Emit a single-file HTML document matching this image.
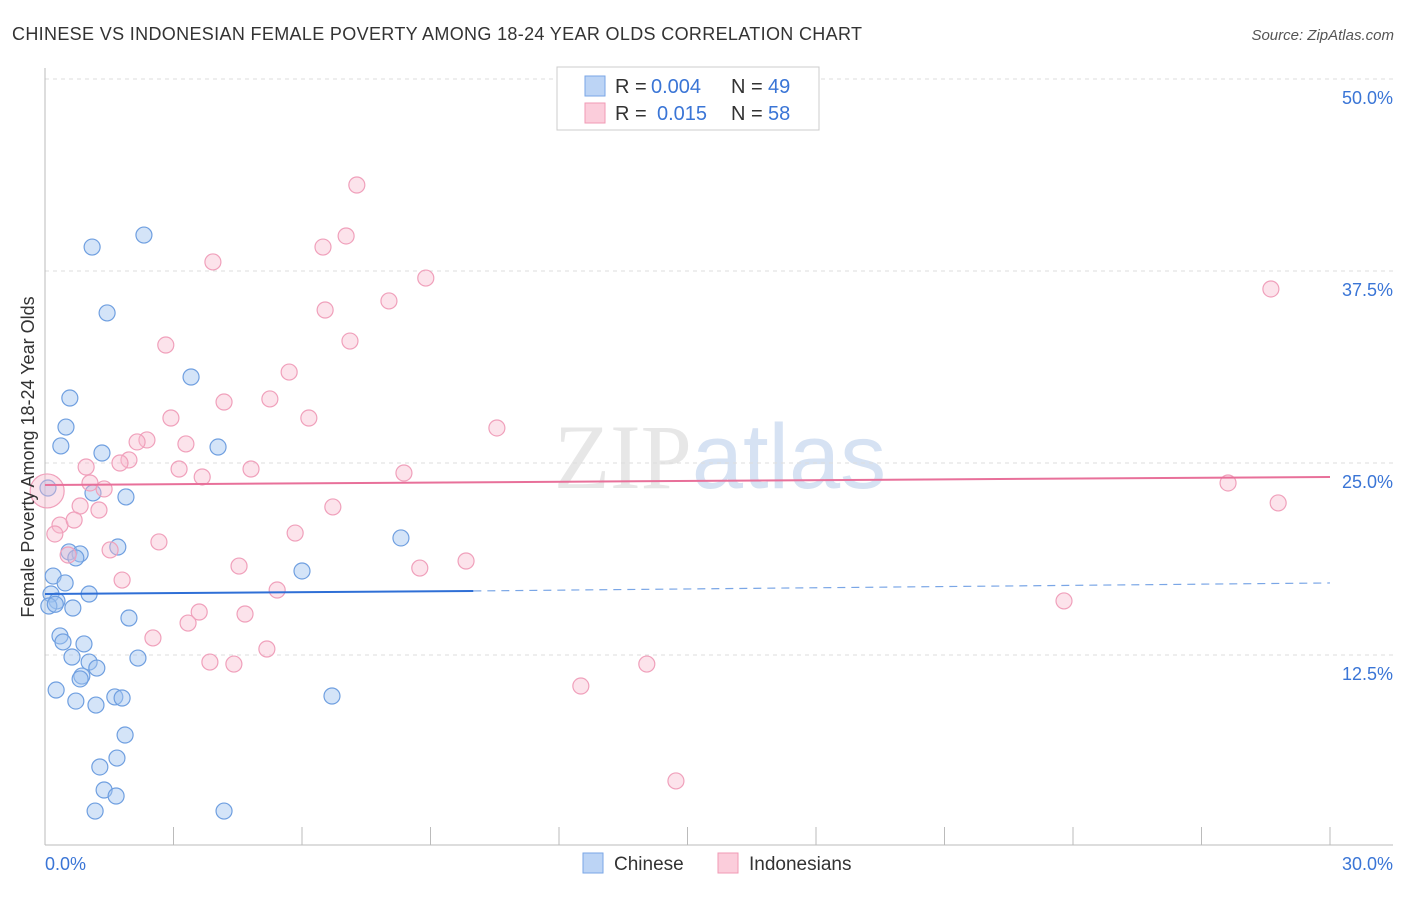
<!DOCTYPE html>
<html><head><meta charset="utf-8"><style>
body{margin:0;background:#fff;font-family:"Liberation Sans",sans-serif;}
svg text{font-family:"Liberation Sans",sans-serif;}
</style></head><body>
<svg id="chart" width="1406" height="892" xmlns="http://www.w3.org/2000/svg">
<text x="12" y="40" font-size="18" fill="#333" textLength="850">CHINESE VS INDONESIAN FEMALE POVERTY AMONG 18-24 YEAR OLDS CORRELATION CHART</text>
<text x="1394" y="40" font-size="15" fill="#555" text-anchor="end" font-style="italic">Source: ZipAtlas.com</text>
<text x="720" y="488" font-size="92" text-anchor="middle" fill="#ddd" opacity="0.7"><tspan font-family="Liberation Serif">ZIP</tspan><tspan fill="#c5d6ee">atlas</tspan></text>
<g id="grid"></g><g id="axes"></g><g id="pts"></g><g id="trend"></g>
<text transform="translate(34,457) rotate(-90)" font-size="18" fill="#333" text-anchor="middle">Female Poverty Among 18-24 Year Olds</text>
<g>
<rect x="557" y="67" width="262" height="63" fill="#fff" stroke="#ccc"/>
<rect x="585" y="76" width="20" height="20" fill="#bcd4f5" stroke="#7aa6e6"/>
<rect x="585" y="103" width="20" height="20" fill="#fbcddb" stroke="#f09ab5"/>
<text x="615" y="93" font-size="20" fill="#333">R =</text><text x="651" y="93" font-size="20" fill="#3a75d6">0.004</text>
<text x="731" y="93" font-size="20" fill="#333">N =</text><text x="768" y="93" font-size="20" fill="#3a75d6">49</text>
<text x="615" y="120" font-size="20" fill="#333">R =</text><text x="657" y="120" font-size="20" fill="#3a75d6">0.015</text>
<text x="731" y="120" font-size="20" fill="#333">N =</text><text x="768" y="120" font-size="20" fill="#3a75d6">58</text>
</g>
<g>
<rect x="583" y="853" width="20" height="20" fill="#bcd4f5" stroke="#7aa6e6"/>
<text x="614" y="870" font-size="19" fill="#333">Chinese</text>
<rect x="718" y="853" width="20" height="20" fill="#fbcddb" stroke="#f09ab5"/>
<text x="749" y="870" font-size="19" fill="#333">Indonesians</text>
</g>
</svg>
<script>
const yTicks=[12.5,25,37.5,50];
const yTickLabels=["12.5%","25.0%","37.5%","50.0%"];
const xEndLabels=["0.0%","30.0%"];
const chineseX=[1.10,2.31,1.45,3.41,0.58,0.49,0.37,1.33,4.04,1.12,1.89,8.31,1.70,0.56,0.82,0.72,6.0,0.19,0.47,0.14,1.03,0.28,0.09,0.65,1.96,0.35,0.42,0.91,0.63,2.17,1.03,1.21,0.86,0.82,0.26,1.63,1.80,0.72,1.19,6.70,1.87,1.68,1.28,1.38,1.66,1.17,4.18,0.07,0.24];
const chineseY=[39.06,39.84,34.77,30.6,29.23,27.34,26.11,25.65,26.04,23.05,22.79,20.12,19.53,19.21,19.08,18.82,17.97,17.64,17.19,16.47,16.47,16.02,15.69,15.56,14.91,13.74,13.35,13.22,12.37,12.3,12.04,11.65,11.13,10.94,10.22,9.77,9.7,9.5,9.24,9.83,7.29,5.79,5.21,3.71,3.32,2.34,2.34,23.37,15.8];
const indoX=[7.28,7.03,6.49,3.92,8.89,8.03,6.54,28.62,2.82,7.12,5.70,4.18,5.25,2.94,6.16,10.55,2.38,2.15,3.29,1.96,1.75,3.13,0.96,4.81,8.38,3.67,1.05,1.38,27.62,0.82,6.72,1.26,0.35,0.68,28.79,0.23,5.84,2.66,0.54,1.52,9.83,4.53,8.75,1.80,5.42,3.60,3.34,4.67,2.52,5.18,3.85,4.41,14.05,12.51,23.79,14.73,0.05];
const indoY=[43.1,39.78,39.06,38.09,37.04,35.55,34.96,36.33,32.68,32.94,30.92,28.97,29.17,27.93,27.93,27.28,26.5,26.37,26.24,25.2,25.0,24.61,24.74,24.61,24.35,24.09,23.7,23.31,23.7,22.2,22.14,21.94,20.96,21.29,22.4,20.38,20.44,19.86,19.01,19.34,18.62,18.29,18.16,17.38,16.73,15.3,14.58,15.17,13.61,12.89,12.04,11.91,11.91,10.48,16.02,4.3,23.18];
const blueTrend=[16.47,16.67,17.19];
const pinkTrend=[23.57,24.09];
const X=v=>45+v/30*1285, Y=v=>847-v/12.5*192;
const NS="http://www.w3.org/2000/svg";
function mk(t,a,p){const e=document.createElementNS(NS,t);for(const k in a)e.setAttribute(k,a[k]);document.getElementById(p).appendChild(e);return e;}
yTicks.forEach((t,i)=>{
 const g=mk('line',{x1:45,x2:1393,y1:Y(t),y2:Y(t),stroke:'#ddd','stroke-dasharray':'4,4'},'grid');
 
 
 const l=mk('text',{x:1393,y:Y(t)+25,'font-size':18,fill:'#3a75d6','text-anchor':'end'},'axes');
 l.textContent=yTickLabels[i];
 
 
});
let a=mk('line',{x1:45,x2:45,y1:68,y2:845,stroke:'#bbb'},'axes');


a=mk('line',{x1:45,x2:1393,y1:845,y2:845,stroke:'#bbb'},'axes');


for(let i=0;i<=10;i++){const t=mk('line',{x1:X(i*3),x2:X(i*3),y1:827,y2:845,stroke:'#bbb'},'axes');
 
 }
[[0,'start',45],[1,'end',1393]].forEach(([i,an,x])=>{const t=mk('text',{x:x,y:870,'font-size':18,fill:'#3a75d6','text-anchor':an},'axes');t.textContent=xEndLabels[i];
 
 });
chineseX.forEach((v,i)=>{const c=mk('circle',{cx:X(v),cy:Y(chineseY[i]),r:8,fill:'rgba(160,195,240,0.45)',stroke:'#6f9fe0','stroke-width':1.2},'pts');
 
 });
indoX.forEach((v,i)=>{const c=mk('circle',{cx:X(v),cy:Y(indoY[i]),r:i==indoX.length-1?17:8,fill:'rgba(248,185,205,0.4)',stroke:'#f0a0bb','stroke-width':1.2},'pts');
 
 });
let t=mk('line',{x1:X(0),y1:Y(blueTrend[0]),x2:X(10),y2:Y(blueTrend[1]),stroke:'#2f6fd6','stroke-width':2},'trend');


t=mk('line',{x1:X(10),y1:Y(blueTrend[1]),x2:X(30),y2:Y(blueTrend[2]),stroke:'#7aa6e6','stroke-width':1.2,'stroke-dasharray':'8,6'},'trend');


t=mk('line',{x1:X(0),y1:Y(pinkTrend[0]),x2:X(30),y2:Y(pinkTrend[1]),stroke:'#e8709a','stroke-width':2},'trend');


</script>
</body></html>
